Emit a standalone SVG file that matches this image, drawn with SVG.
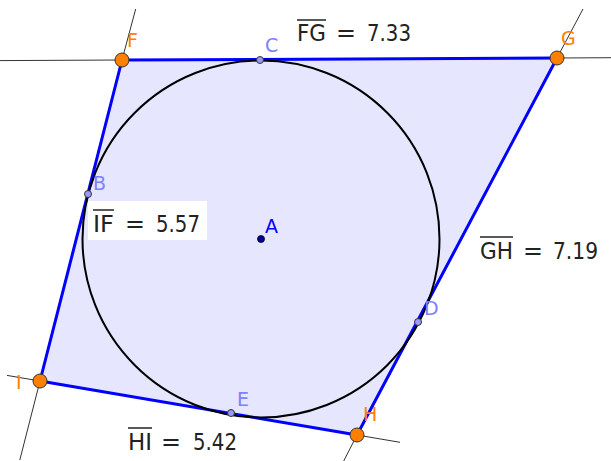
<svg xmlns="http://www.w3.org/2000/svg" width="611" height="461" viewBox="0 0 611 461">
<style>
.ln{stroke:#333;stroke-width:1;fill:none}
.seg{stroke:#0000ff;stroke-width:3;fill:none;stroke-linecap:round}
.big{fill:#ff8000;stroke:#333;stroke-width:1}
.sm{fill:#9999ff;stroke:#333;stroke-width:1}
.pl{font-family:"DejaVu Sans",sans-serif;font-size:19px}
.or{fill:#ff8000}
.lb{fill:#8080ff}
.ms{font-family:"DejaVu Sans",sans-serif;font-size:23px;fill:#222}
.ov{stroke:#222;stroke-width:1.5}
</style>
<rect width="611" height="461" fill="#fff"/>
<g id="polygon">
<polygon points="122,60 557,58 357,435 40,381" fill="#e6e6ff" stroke="none"/>
</g>
<g id="connectors">
<line class="ln" x1="0" y1="60.6" x2="122" y2="60"/>
<line class="ln" x1="557" y1="58" x2="611" y2="57.7"/>
<line class="ln" x1="122" y1="60" x2="135.7" y2="9"/>
<line class="ln" x1="40" y1="381" x2="19.8" y2="460"/>
<line class="ln" x1="557" y1="58" x2="583" y2="9"/>
<line class="ln" x1="357" y1="435" x2="343.7" y2="461"/>
<line class="ln" x1="40" y1="381" x2="7" y2="375.4"/>
<line class="ln" x1="357" y1="435" x2="400" y2="442.3"/>
<line class="seg" x1="122" y1="60" x2="557" y2="58"/>
<line class="seg" x1="557" y1="58" x2="357" y2="435"/>
<line class="seg" x1="357" y1="435" x2="40" y2="381"/>
<line class="seg" x1="40" y1="381" x2="122" y2="60"/>
</g>
<g id="circle">
<circle cx="261" cy="239" r="178.5" fill="none" stroke="#000" stroke-width="2"/>
</g>
<g id="label-IF">
<rect x="88" y="201" width="119" height="39" fill="#fff"/>
<text class="ms" x="93" y="232" textLength="21" lengthAdjust="spacingAndGlyphs">IF</text>
<line class="ov" x1="93" y1="210" x2="114" y2="210"/>
<text class="ms" x="125" y="232" textLength="20" lengthAdjust="spacingAndGlyphs">=</text>
<text class="ms" x="156" y="232" textLength="44" lengthAdjust="spacingAndGlyphs">5.57</text>
</g>
<g id="label-FG">
<text class="ms" x="297" y="41" textLength="29" lengthAdjust="spacingAndGlyphs">FG</text>
<line class="ov" x1="297" y1="20" x2="326" y2="20"/>
<text class="ms" x="336" y="41" textLength="20" lengthAdjust="spacingAndGlyphs">=</text>
<text class="ms" x="367" y="41" textLength="44" lengthAdjust="spacingAndGlyphs">7.33</text>
</g>
<g id="label-GH">
<text class="ms" x="480" y="259" textLength="33" lengthAdjust="spacingAndGlyphs">GH</text>
<line class="ov" x1="480" y1="237" x2="513" y2="237"/>
<text class="ms" x="523" y="259" textLength="20" lengthAdjust="spacingAndGlyphs">=</text>
<text class="ms" x="553" y="259" textLength="45" lengthAdjust="spacingAndGlyphs">7.19</text>
</g>
<g id="label-HI">
<text class="ms" x="128" y="450" textLength="24" lengthAdjust="spacingAndGlyphs">HI</text>
<line class="ov" x1="128" y1="428" x2="152" y2="428"/>
<text class="ms" x="161" y="450" textLength="20" lengthAdjust="spacingAndGlyphs">=</text>
<text class="ms" x="193" y="450" textLength="44" lengthAdjust="spacingAndGlyphs">5.42</text>
</g>
<g id="C"><circle class="sm" cx="260" cy="60" r="3.5"/><text class="pl lb" x="265" y="52">C</text></g>
<g id="B"><circle class="sm" cx="88" cy="194" r="3.5"/><text class="pl lb" x="93" y="190">B</text></g>
<g id="D"><circle class="sm" cx="418" cy="322" r="3.5"/><text class="pl lb" x="424" y="315">D</text></g>
<g id="E"><circle class="sm" cx="231" cy="413" r="3.5"/><text class="pl lb" x="237" y="406">E</text></g>
<g id="A"><circle cx="261" cy="239" r="3.5" fill="#0000a0" stroke="#000" stroke-width="0.8"/><text class="pl" fill="#0000ff" x="265" y="233">A</text></g>
<g id="F"><circle class="big" cx="122" cy="60" r="7"/><text class="pl or" x="127" y="47">F</text></g>
<g id="G"><circle class="big" cx="557" cy="58" r="7"/><text class="pl or" x="561" y="45">G</text></g>
<g id="H"><circle class="big" cx="357" cy="435" r="7"/><text class="pl or" x="363" y="421">H</text></g>
<g id="I"><circle class="big" cx="40" cy="381" r="7"/><text class="pl or" x="16" y="389">I</text></g>
</svg>
